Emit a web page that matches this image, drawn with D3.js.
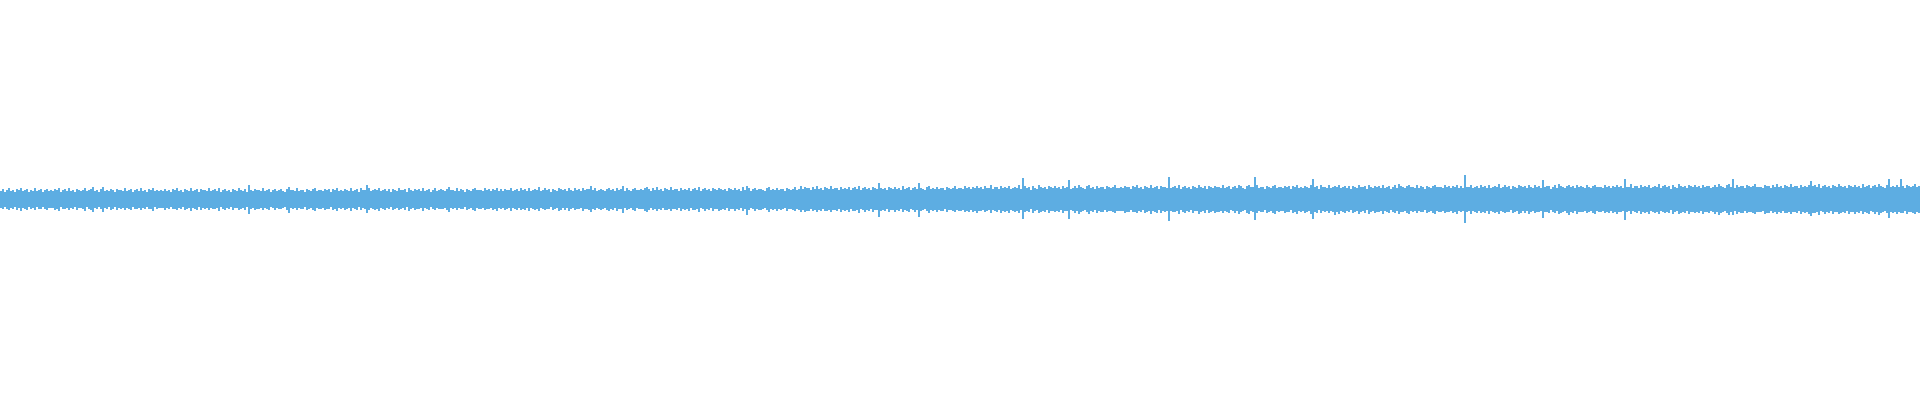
<!DOCTYPE html>
<html>
<head>
<meta charset="utf-8">
<script src="https://cdn.jsdelivr.net/npm/d3@7"></script>
<style>
html,body{margin:0;padding:0;background:#ffffff;overflow:hidden;}
svg{display:block;}
</style>
</head>
<body>
<svg id="chart" width="1920" height="400"></svg>
<script>
// Waveform envelope: peak (max) and trough (min) sample value per block
const peaks = [
44,52,39,47,55,41,48,36,50,45,57,40,46,53,38,49,44,56,42,47,51,37,48,54,43,46,40,52,45,58,39,47,50,44,55,41,48,36,53,46,42,49,57,40,45,51,60,43,47,38,50,60,44,48,41,54,46,39,52,45,49,43,56,40,47,53,38,46,50,44,55,42,48,37,51,45,57,41,47,43,
46,40,53,44,49,37,51,45,56,42,48,39,52,46,43,57,41,47,50,38,54,45,48,42,55,40,46,51,44,58,39,47,53,43,49,36,52,46,41,55,48,44,50,38,70,47,42,53,45,49,40,56,43,48,51,37,46,54,42,47,50,44,39,52,62,45,48,41,55,43,49,46,38,53,47,42,50,57,44,46,
47,42,54,45,50,39,52,46,57,43,49,40,53,47,44,58,42,48,51,39,55,46,49,70,56,41,47,52,45,59,40,48,54,44,50,37,53,47,42,56,49,45,51,39,55,48,43,54,46,50,41,57,44,49,52,38,47,55,43,48,51,45,40,53,60,46,49,42,56,44,50,47,39,54,48,43,51,58,45,47,
48,43,55,46,51,40,53,47,58,44,50,41,54,48,45,59,43,49,52,40,56,47,50,44,57,42,48,53,46,60,41,49,55,45,51,38,54,48,43,57,50,46,52,40,56,49,44,55,47,51,42,58,45,50,53,65,48,56,44,49,52,46,41,54,58,47,50,43,57,45,51,68,40,55,49,44,52,59,46,48,
50,45,57,62,53,42,55,49,60,46,52,43,56,50,47,61,45,51,54,42,58,49,52,46,59,44,50,55,48,62,43,51,57,47,53,40,56,50,45,59,52,48,54,42,58,51,46,57,49,53,44,60,47,66,55,42,50,58,46,51,54,48,43,56,60,49,52,45,59,47,53,51,42,57,51,46,54,61,48,50,
65,50,62,55,58,47,60,54,65,51,57,48,61,55,52,66,50,56,59,47,63,54,57,51,64,49,55,60,53,67,48,56,62,52,58,45,61,55,50,80,57,53,59,47,63,56,51,62,54,58,49,65,52,57,60,46,55,63,51,80,59,53,48,61,66,54,57,50,64,52,58,56,47,62,56,51,59,66,53,55,
58,53,66,59,62,51,64,58,69,55,61,52,65,59,56,70,54,60,63,51,67,58,61,55,68,53,59,64,57,71,52,105,66,56,62,49,65,59,54,70,61,57,63,51,67,60,55,66,58,62,53,69,56,61,95,50,59,67,55,72,63,57,52,65,70,58,61,54,68,56,62,60,51,66,60,55,63,70,57,59,
60,55,68,61,64,53,66,60,71,57,63,54,67,61,58,72,56,62,65,53,69,60,63,57,110,55,61,66,59,73,54,62,68,58,64,51,67,61,56,72,63,59,65,53,69,62,57,68,60,64,55,71,58,63,66,52,61,69,57,74,65,59,54,67,72,60,63,110,70,58,64,62,53,68,62,57,65,72,59,61,
61,56,69,62,65,54,67,61,72,58,64,55,68,62,59,73,100,63,66,54,70,61,64,58,71,56,62,67,60,74,55,63,69,59,65,52,68,62,57,73,64,60,66,54,70,63,58,69,61,65,56,72,59,64,67,53,62,70,58,75,66,60,55,68,73,61,64,57,71,59,65,63,54,69,63,58,66,73,60,62,
62,57,70,63,66,55,68,62,73,59,65,56,120,63,60,74,58,64,67,55,71,62,65,59,72,57,63,68,61,75,56,64,70,60,66,53,69,63,58,74,65,61,67,55,71,64,59,70,62,66,57,95,60,65,68,54,63,71,59,76,67,61,56,69,74,62,65,58,72,60,66,64,55,70,64,59,67,74,61,63,
63,58,71,64,67,56,69,63,74,60,66,57,100,64,61,75,59,65,68,56,72,63,66,60,73,58,64,69,62,76,57,65,71,61,67,54,70,64,59,75,66,62,68,56,72,65,60,71,63,67,58,74,61,66,69,55,64,72,60,77,68,62,57,70,75,63,100,59,73,61,67,65,56,71,65,60,68,75,62,64,
64,59,72,65,68,57,70,64,75,61,67,58,71,65,62,76,60,66,69,57,73,64,67,61,74,90,65,70,63,77,58,66,72,62,68,55,71,65,60,76,67,63,69,57,73,66,61,72,64,68,59,75,62,67,70,56,65,73,61,78,69,63,58,71,100,64,67,60,74,62,100,66,57,72,66,61,69,76,63,65
];
const troughs = [
-43,-50,-38,-46,-54,-42,-49,-37,-51,-44,-56,-41,-47,-52,-39,-48,-45,-55,-40,-46,-50,-38,-47,-53,-44,-45,-41,-51,-46,-57,-40,-48,-49,-43,-54,-42,-47,-37,-52,-45,-43,-50,-56,-39,-46,-52,-62,-42,-48,-39,-49,-64,-45,-47,-40,-53,-47,-38,-51,-44,-50,-42,-55,-41,-46,-52,-39,-47,-49,-45,-54,-43,-47,-38,-50,-46,-56,-40,-48,-42,
-45,-41,-52,-45,-48,-38,-50,-46,-55,-43,-47,-40,-51,-47,-42,-56,-42,-46,-51,-39,-53,-44,-49,-41,-54,-41,-47,-50,-45,-57,-40,-46,-52,-44,-48,-37,-53,-45,-42,-54,-49,-43,-51,-39,-72,-46,-43,-52,-46,-48,-41,-55,-44,-47,-52,-38,-45,-53,-43,-48,-49,-45,-40,-51,-70,-44,-49,-42,-54,-44,-48,-47,-39,-52,-46,-43,-51,-56,-43,-47,
-46,-43,-53,-46,-49,-40,-51,-47,-56,-44,-48,-41,-52,-48,-43,-57,-43,-47,-52,-40,-54,-45,-50,-68,-55,-42,-48,-51,-46,-58,-41,-47,-53,-45,-49,-38,-54,-46,-43,-55,-50,-44,-52,-40,-56,-47,-44,-53,-47,-49,-42,-56,-45,-48,-53,-39,-46,-54,-44,-49,-50,-46,-41,-52,-62,-45,-50,-43,-55,-45,-49,-48,-40,-53,-47,-44,-52,-57,-44,-48,
-47,-44,-54,-47,-50,-41,-52,-48,-57,-45,-49,-42,-53,-49,-44,-58,-44,-48,-53,-41,-55,-46,-51,-45,-56,-43,-49,-52,-47,-59,-42,-48,-54,-46,-50,-39,-55,-47,-44,-56,-51,-45,-53,-41,-57,-48,-45,-54,-48,-50,-43,-57,-46,-49,-54,-64,-47,-55,-45,-50,-51,-47,-42,-53,-59,-46,-51,-44,-56,-46,-50,-70,-41,-54,-48,-45,-53,-58,-45,-49,
-49,-46,-56,-65,-52,-43,-54,-50,-59,-47,-51,-44,-55,-51,-46,-60,-46,-50,-55,-43,-57,-48,-53,-47,-58,-45,-51,-54,-49,-61,-44,-50,-56,-48,-52,-41,-57,-49,-46,-58,-53,-47,-55,-43,-59,-50,-47,-56,-50,-52,-45,-59,-48,-80,-54,-43,-49,-57,-47,-52,-53,-49,-44,-55,-61,-48,-53,-46,-58,-48,-52,-50,-43,-56,-50,-47,-55,-60,-47,-51,
-62,-51,-61,-56,-57,-48,-59,-55,-64,-52,-56,-49,-60,-56,-51,-65,-51,-55,-60,-48,-62,-53,-58,-52,-63,-50,-56,-59,-54,-66,-49,-55,-61,-53,-57,-46,-62,-54,-51,-90,-58,-52,-60,-48,-64,-55,-52,-61,-55,-57,-50,-64,-53,-56,-61,-47,-54,-62,-52,-90,-58,-54,-49,-60,-67,-53,-58,-51,-63,-53,-57,-57,-48,-61,-55,-52,-60,-65,-52,-56,
-57,-54,-65,-60,-61,-52,-63,-59,-68,-56,-60,-53,-64,-60,-55,-69,-55,-59,-64,-52,-66,-57,-62,-56,-67,-54,-60,-63,-58,-70,-53,-100,-65,-57,-61,-50,-66,-58,-55,-69,-62,-56,-64,-52,-68,-59,-56,-65,-59,-61,-54,-68,-57,-60,-100,-51,-58,-66,-56,-71,-62,-58,-53,-64,-72,-57,-62,-55,-67,-57,-61,-61,-52,-65,-59,-56,-64,-69,-56,-60,
-59,-56,-67,-62,-63,-54,-65,-61,-70,-58,-62,-55,-66,-62,-57,-71,-57,-61,-66,-54,-68,-59,-64,-58,-110,-56,-62,-65,-60,-72,-55,-61,-67,-59,-63,-52,-68,-60,-57,-71,-64,-58,-66,-54,-70,-61,-58,-67,-61,-63,-56,-70,-59,-62,-67,-53,-60,-68,-58,-73,-64,-60,-55,-66,-74,-59,-64,-105,-69,-59,-63,-63,-54,-67,-61,-58,-66,-71,-58,-62,
-60,-57,-68,-63,-64,-55,-66,-62,-71,-59,-63,-56,-67,-63,-58,-72,-100,-62,-67,-55,-69,-60,-65,-59,-70,-57,-63,-80,-61,-73,-56,-62,-68,-60,-64,-53,-69,-61,-58,-72,-65,-59,-67,-55,-71,-62,-59,-68,-62,-64,-57,-71,-60,-63,-68,-54,-61,-69,-59,-74,-65,-61,-56,-67,-75,-60,-65,-58,-70,-60,-64,-64,-55,-68,-62,-59,-67,-72,-59,-63,
-61,-58,-69,-64,-65,-56,-67,-63,-72,-60,-64,-57,-120,-64,-59,-73,-59,-63,-68,-56,-70,-61,-66,-60,-71,-58,-64,-67,-62,-74,-57,-63,-69,-61,-65,-54,-70,-62,-59,-73,-66,-60,-68,-56,-72,-63,-60,-69,-63,-65,-58,-95,-61,-64,-69,-55,-62,-70,-60,-75,-66,-62,-57,-68,-76,-61,-66,-59,-71,-61,-65,-65,-56,-69,-63,-60,-68,-73,-60,-64,
-62,-59,-70,-65,-66,-57,-68,-64,-73,-61,-65,-58,-105,-65,-60,-74,-60,-64,-69,-57,-71,-62,-67,-61,-72,-59,-65,-68,-63,-75,-58,-64,-70,-62,-66,-55,-71,-63,-60,-74,-67,-61,-69,-57,-73,-64,-61,-70,-64,-66,-59,-73,-62,-65,-70,-56,-63,-71,-61,-76,-67,-63,-58,-69,-77,-62,-80,-60,-72,-62,-66,-66,-57,-70,-64,-61,-69,-74,-61,-65,
-63,-60,-71,-66,-67,-58,-69,-65,-74,-62,-66,-59,-70,-66,-61,-75,-61,-65,-70,-58,-72,-63,-68,-62,-73,-85,-66,-69,-64,-76,-59,-65,-71,-63,-67,-56,-72,-64,-61,-75,-68,-62,-70,-58,-74,-65,-62,-71,-65,-67,-60,-74,-63,-66,-71,-57,-64,-72,-62,-77,-68,-64,-59,-70,-95,-63,-68,-61,-73,-63,-67,-67,-58,-71,-65,-62,-70,-75,-62,-66
];
const yDomain = [-1000, 1000];

const W = 1920, H = 400;
const n = Math.min(peaks.length, troughs.length);
const idx = d3.range(n);

const x = d3.scaleBand().domain(idx).range([0, W]).padding(0);
const y = d3.scaleLinear().domain(yDomain).range([H - 0.7, -0.7]);

const svg = d3.select("#chart");
svg.append("g")
  .attr("shape-rendering", "crispEdges")
  .selectAll("rect")
  .data(idx)
  .join("rect")
  .attr("x", i => x(i))
  .attr("width", x.bandwidth())
  .attr("y", i => y(peaks[i]))
  .attr("height", i => y(troughs[i]) - y(peaks[i]))
  .attr("fill", "#5dade2");
</script>
</body>
</html>
